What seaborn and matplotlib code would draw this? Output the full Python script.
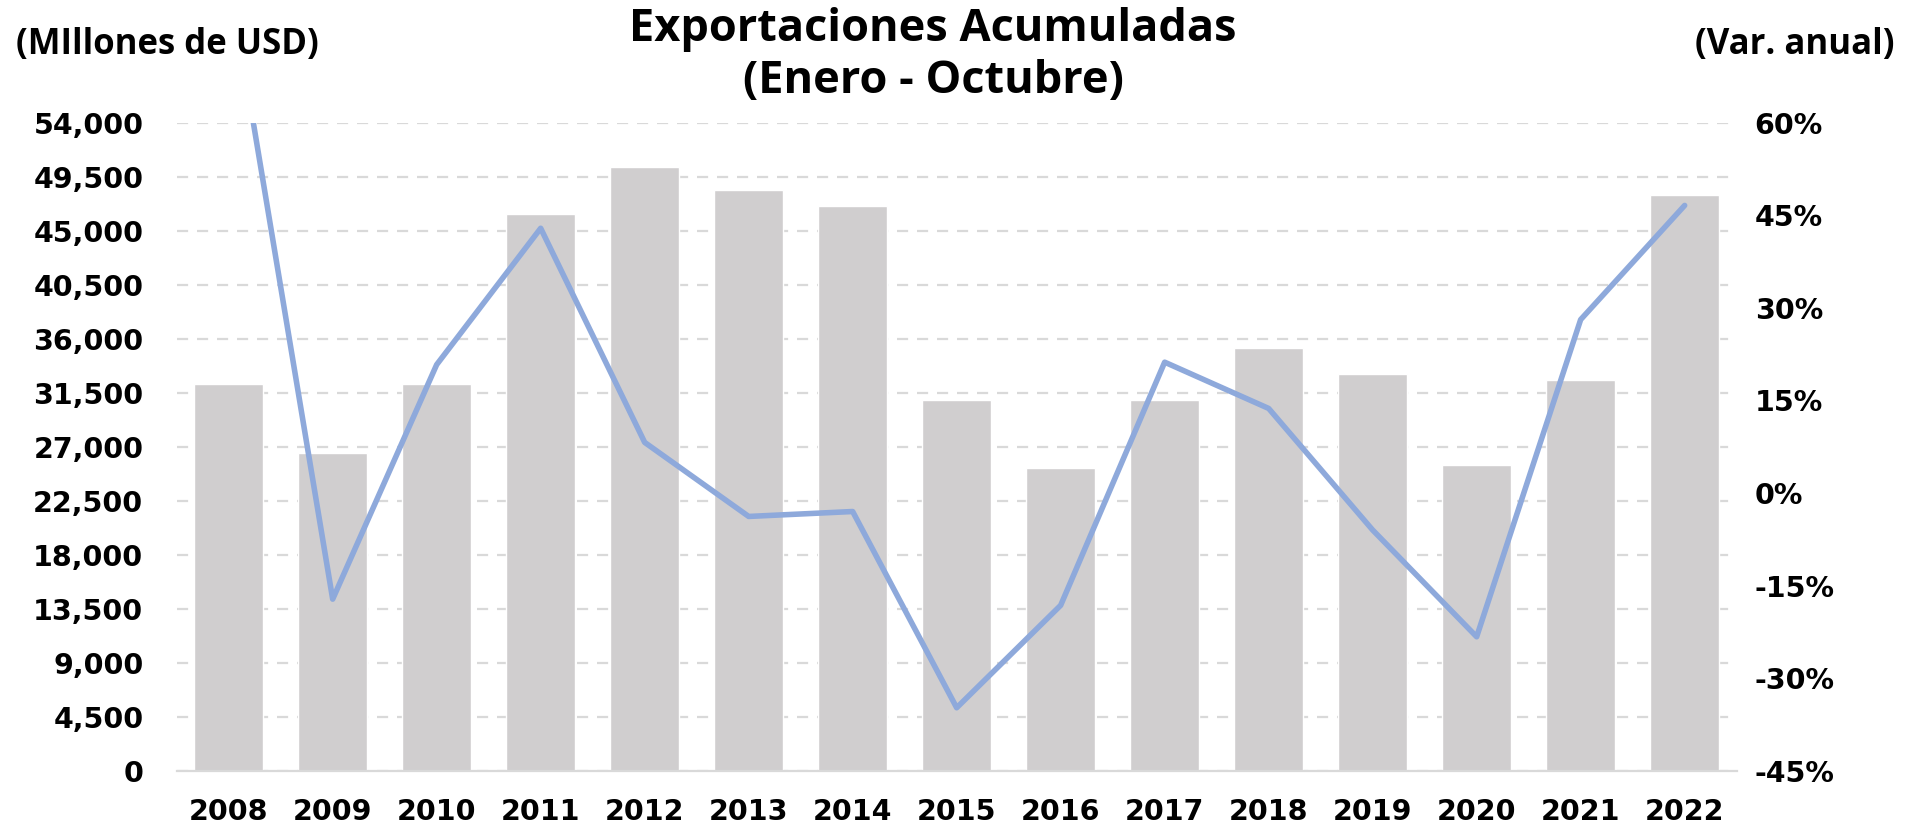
import matplotlib
matplotlib.use("Agg")
import matplotlib.pyplot as plt
import matplotlib.ticker as mticker
import seaborn as sns
import numpy as np
import pandas as pd

years = ["2008", "2009", "2010", "2011", "2012", "2013", "2014", "2015",
         "2016", "2017", "2018", "2019", "2020", "2021", "2022"]
exports = [32200, 26500, 32200, 46400, 50300, 48400, 47100, 30900,
           25200, 30900, 35200, 33100, 25500, 32600, 48000]
var_anual = [84.0, -17.2, 20.8, 42.9, 8.2, -3.8, -3.0, -34.8,
             -18.2, 21.2, 13.7, -6.0, -23.3, 28.1, 46.6]

left_ticks = [0, 4500, 9000, 13500, 18000, 22500, 27000, 31500, 36000,
              40500, 45000, 49500, 54000]
right_ticks = [-45, -30, -15, 0, 15, 30, 45, 60]

title_text = "Exportaciones Acumuladas\n(Enero - Octubre)"
left_label = "(MIllones de USD)"
right_label = "(Var. anual)"

df = pd.DataFrame({"year": years, "exports": exports, "var": var_anual})

sns.set_theme(style="white")
plt.rcParams["font.family"] = ["DejaVu Sans"]

fig = plt.figure(figsize=(19.08, 8.36), dpi=100)
ax = fig.add_axes([0.0926, 0.0781, 0.8176, 0.7751])

bar_color = "#D0CECF"
line_color = "#8EA9DB"
grid_color = "#D9D9D9"
tick_size = 20.5

sns.barplot(data=df, x="year", y="exports", color=bar_color, width=0.66,
            saturation=1, ax=ax, zorder=2)
ax.set_xlim(-0.5, len(years) - 0.5)
ax.set_ylim(0, 54000)
ax.set_yticks(left_ticks)
ax.yaxis.set_major_formatter(mticker.FuncFormatter(lambda v, p: f"{int(v):,}"))
ax.set_axisbelow(True)
ax.yaxis.grid(True, color=grid_color, linestyle=(0, (5, 4)), linewidth=1.6)
ax.xaxis.grid(False)
for s in ["top", "right", "left"]:
    ax.spines[s].set_visible(False)
ax.spines["bottom"].set_color(grid_color)
ax.spines["bottom"].set_linewidth(1.6)
ax.set_xlabel("")
ax.set_ylabel("")
ax.tick_params(axis="y", length=0, pad=24, labelsize=tick_size)
ax.tick_params(axis="x", length=0, pad=20, labelsize=tick_size)
for t in ax.get_yticklabels() + ax.get_xticklabels():
    t.set_fontweight("bold")
    t.set_color("black")

ax2 = ax.twinx()
sns.lineplot(data=df, x="year", y="var", color=line_color, linewidth=4,
             sort=False, ax=ax2, zorder=3)
ax2.lines[0].set_solid_capstyle("round")
ax2.lines[0].set_solid_joinstyle("round")
ax2.set_ylim(-45, 60)
ax2.set_yticks(right_ticks)
ax2.yaxis.set_major_formatter(mticker.FuncFormatter(lambda v, p: f"{int(v)}%"))
ax2.grid(False)
for s in ["top", "right", "left", "bottom"]:
    ax2.spines[s].set_visible(False)
ax2.set_xlabel("")
ax2.set_ylabel("")
ax2.tick_params(axis="y", length=0, pad=13, labelsize=tick_size)
for t in ax2.get_yticklabels():
    t.set_fontweight("bold")
    t.set_color("black")
ax2.set_xlim(-0.5, len(years) - 0.5)

fig.text(0.489, 0.934, title_text, ha="center", va="center", fontsize=32.5,
         fontweight="bold", family=["Open Sans", "DejaVu Sans"],
         linespacing=1.2, color="black")
fig.text(0.0086, 0.946, left_label, ha="left", va="center", fontsize=25,
         fontweight="bold", family=["Open Sans", "DejaVu Sans"], color="black")
fig.text(0.993, 0.946, right_label, ha="right", va="center", fontsize=25,
         fontweight="bold", family=["Open Sans", "DejaVu Sans"], color="black")

fig.savefig("out.png", dpi=100)
